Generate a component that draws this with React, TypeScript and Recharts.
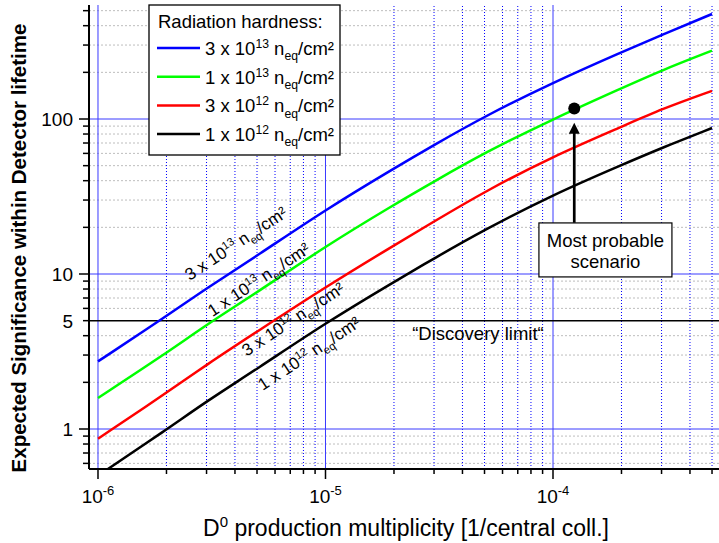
import React from "react";
import {
  LineChart,
  Line,
  XAxis,
  YAxis,
  ReferenceLine,
  ReferenceDot,
  Legend,
} from "recharts";

const FONT = "'Liberation Sans', Arial, Helvetica, sans-serif";

// D0 production multiplicity [1/central coll.]
const multiplicity = [1e-6, 2e-6, 3e-6, 5e-6, 1e-5, 2e-5, 3e-5, 5e-5, 1e-4, 2e-4, 3e-4, 5e-4];
// expected significance for each radiation hardness
const sig3e13 = [2.73, 5.35, 8.1, 13.1, 26.0, 48, 68, 104, 172, 270, 348, 476];
const sig1e13 = [1.585, 3.09, 4.71, 7.6, 15.1, 28.0, 39.5, 60.5, 100, 158, 206, 276];
const sig3e12 = [0.866, 1.71, 2.6, 4.25, 8.24, 15.3, 21.8, 34, 57.4, 89, 116, 152];
const sig1e12 = [0.5, 0.99, 1.51, 2.44, 4.83, 8.9, 12.6, 19.3, 32.5, 50.5, 65, 87.5];

const series = [
  { key: "s3e13", mant: "3", exp: "13", color: "#0000ff" },
  { key: "s1e13", mant: "1", exp: "13", color: "#00ff00" },
  { key: "s3e12", mant: "3", exp: "12", color: "#ff0000" },
  { key: "s1e12", mant: "1", exp: "12", color: "#000000" },
];

// rotated labels along the curves
const curveLabelX = [4.56e-6, 5.37e-6, 6.84e-6, 7.73e-6];
const curveLabelY = [12.0, 8.15, 5.73, 3.75];
const curveLabelOffset = [-16, -4, 15, 22];

const xMajorTicks = [1e-6, 1e-5, 1e-4];
const xMinorTicks = [
  2e-6, 3e-6, 4e-6, 5e-6, 6e-6, 7e-6, 8e-6, 9e-6,
  2e-5, 3e-5, 4e-5, 5e-5, 6e-5, 7e-5, 8e-5, 9e-5,
  2e-4, 3e-4, 4e-4, 5e-4,
];
const yMajorTicks = [1, 10, 100];
const yMinorTicks = [
  0.6, 0.7, 0.8, 0.9, 2, 3, 4, 5, 6, 7, 8, 9,
  20, 30, 40, 50, 60, 70, 80, 90, 200, 300, 400, 500,
];
const yLabelled = [1, 5, 10, 100];
const discoveryLimit = 5;

const scenarioPoint = { x: 1.24e-4, y: 117 };
const scenarioArrow = { x: 1.24e-4, from: 21.4, to: 94.7 };
const scenarioBox = { x: 1.7e-4, y: 14.3 };

const data = multiplicity.map((m, i) => ({
  m,
  s3e13: sig3e13[i],
  s1e13: sig1e13[i],
  s3e12: sig3e12[i],
  s1e12: sig1e12[i],
}));

const fluence = (mant: string, exp: string, f: number) => (
  <>
    {`${mant} x 10`}
    <tspan dy={-0.38 * f} fontSize={0.66 * f}>{exp}</tspan>
    <tspan dy={0.38 * f}> n</tspan>
    <tspan dy={0.28 * f} fontSize={0.66 * f}>eq</tspan>
    <tspan dy={-0.28 * f}>/cm²</tspan>
  </>
);

const XTick = (props: any) => {
  const { x, y, payload } = props;
  const v = payload.value;
  const major = xMajorTicks.includes(v);
  const exp = Math.round(Math.log10(v));
  return (
    <g>
      <line x1={x} x2={x} y1={y} y2={y + (major ? 10 : 5)} stroke="#000" strokeWidth={1.5} />
      {major && (
        <text x={x} y={y + 34} textAnchor="middle" fontSize={19} fontFamily={FONT} fill="#000">
          10<tspan dy={-8} fontSize={13}>{exp}</tspan>
        </text>
      )}
    </g>
  );
};

const YTick = (props: any) => {
  const { x, y, payload } = props;
  const v = payload.value;
  const major = yMajorTicks.includes(v);
  return (
    <g>
      <line x1={x - (major ? 10 : 6)} x2={x} y1={y} y2={y} stroke="#000" strokeWidth={1.5} />
      {yLabelled.includes(v) && (
        <text x={x - 16} y={y} dy="0.36em" textAnchor="end" fontSize={19} fontFamily={FONT} fill="#000">
          {v}
        </text>
      )}
    </g>
  );
};

const LegendBox = () => (
  <svg width={194} height={153} style={{ display: "block" }}>
    <rect x={1} y={1} width={191} height={150} fill="#fff" stroke="#000" strokeWidth={1.3} />
    <text x={10} y={24} fontSize={18.5} fontFamily={FONT}>
      Radiation hardness:
    </text>
    {series.map((s, i) => {
      const cy = 44 + i * 28.7;
      return (
        <g key={s.key}>
          <line x1={9} x2={52} y1={cy} y2={cy} stroke={s.color} strokeWidth={2.5} />
          <text x={57} y={cy + 7} fontSize={18.5} fontFamily={FONT}>
            {fluence(s.mant, s.exp, 18.5)}
          </text>
        </g>
      );
    })}
  </svg>
);

const Arrow = (props: any) => {
  const { x1, y1, x2, y2 } = props;
  return (
    <g>
      <line x1={x1} y1={y1} x2={x2} y2={y2 + 9} stroke="#000" strokeWidth={2.7} />
      <polygon points={`${x2},${y2} ${x2 - 5.5},${y2 + 11} ${x2 + 5.5},${y2 + 11}`} fill="#000" />
    </g>
  );
};

export default function App() {
  return (
    <div>
      <style>{"body{margin:0}"}</style>
      <LineChart
        width={719}
        height={543}
        data={data}
        margin={{ top: 5, right: 0, bottom: 0, left: 0 }}
      >
        <XAxis
          dataKey="m"
          type="number"
          scale="log"
          domain={[9.13e-7, 5.366e-4]}
          allowDataOverflow
          ticks={[...xMajorTicks, ...xMinorTicks]}
          interval={0}
          height={74}
          tickSize={0}
          tickMargin={0}
          tickLine={false}
          axisLine={{ stroke: "#000", strokeWidth: 2 }}
          tick={<XTick />}
          label={{
            content: () => (
              <text x={406} y={536} textAnchor="middle" fontSize={23} fontFamily={FONT} fill="#000">
                D<tspan dy={-9} fontSize={15}>0</tspan>
                <tspan dy={9}> production multiplicity [1/central coll.]</tspan>
              </text>
            ),
          }}
        />
        <YAxis
          type="number"
          scale="log"
          domain={[0.552, 543.9]}
          allowDataOverflow
          ticks={[...yMajorTicks, ...yMinorTicks]}
          interval={0}
          width={89}
          tickSize={0}
          tickMargin={0}
          tickLine={false}
          axisLine={{ stroke: "#000", strokeWidth: 2 }}
          tick={<YTick />}
          label={{
            content: () => (
              <text
                x={26}
                y={248}
                transform="rotate(-90 26 248)"
                textAnchor="middle"
                fontSize={20.5}
                fontWeight="bold"
                fontFamily={FONT}
                fill="#000"
              >
                Expected Significance within Detector lifetime
              </text>
            ),
          }}
        />

        {yMinorTicks
          .filter((v) => v !== discoveryLimit)
          .map((v) => (
            <ReferenceLine key={"ym" + v} y={v} stroke="#bdbdbd" strokeDasharray="2 2" strokeWidth={1} />
          ))}
        {xMinorTicks.map((v) => (
          <ReferenceLine key={"xm" + v} x={v} stroke="#0000ff" strokeDasharray="1 2" strokeWidth={1} />
        ))}
        {yMajorTicks.map((v) => (
          <ReferenceLine key={"yM" + v} y={v} stroke="#3a3aff" strokeWidth={1} />
        ))}
        {xMajorTicks.map((v) => (
          <ReferenceLine key={"xM" + v} x={v} stroke="#3a3aff" strokeWidth={1} />
        ))}
        <ReferenceLine y={discoveryLimit} stroke="#000" strokeWidth={1.5} />

        {series.map((s) => (
          <Line
            key={s.key}
            dataKey={s.key}
            type="basis"
            stroke={s.color}
            strokeWidth={2.5}
            dot={false}
            isAnimationActive={false}
          />
        ))}

        {series.map((s, i) => (
          <ReferenceDot
            key={"lbl" + s.key}
            x={curveLabelX[i]}
            y={curveLabelY[i]}
            r={0}
            shape={(p: any) => (
              <text
                transform={`translate(${p.cx},${p.cy}) rotate(-33.5)`}
                y={curveLabelOffset[i]}
                textAnchor="middle"
                fontSize={17}
                fontFamily={FONT}
                fill="#000"
              >
                {fluence(s.mant, s.exp, 17)}
              </text>
            )}
          />
        ))}

        <ReferenceDot
          x={4.68e-5}
          y={discoveryLimit}
          r={0}
          shape={(p: any) => (
            <text x={p.cx} y={p.cy + 19} textAnchor="middle" fontSize={18.5} fontFamily={FONT} fill="#000">
              “Discovery limit“
            </text>
          )}
        />

        <ReferenceLine
          segment={[
            { x: scenarioArrow.x, y: scenarioArrow.from },
            { x: scenarioArrow.x, y: scenarioArrow.to },
          ]}
          shape={<Arrow />}
        />
        <ReferenceDot x={scenarioPoint.x} y={scenarioPoint.y} r={6} fill="#000" stroke="none" />
        <ReferenceDot
          x={scenarioBox.x}
          y={scenarioBox.y}
          r={0}
          shape={(p: any) => (
            <g>
              <rect x={p.cx - 66.5} y={p.cy - 27} width={133} height={54} fill="#fff" stroke="#000" strokeWidth={1.2} />
              <text x={p.cx} y={p.cy - 3} textAnchor="middle" fontSize={18.5} fontFamily={FONT} fill="#000">
                Most probable
              </text>
              <text x={p.cx} y={p.cy + 18} textAnchor="middle" fontSize={18.5} fontFamily={FONT} fill="#000">
                scenario
              </text>
            </g>
          )}
        />

        <Legend
          layout="vertical"
          align="center"
          verticalAlign="middle"
          wrapperStyle={{ left: 148, top: 4, width: 194, height: 153, lineHeight: 0 }}
          content={() => <LegendBox />}
        />
      </LineChart>
    </div>
  );
}
